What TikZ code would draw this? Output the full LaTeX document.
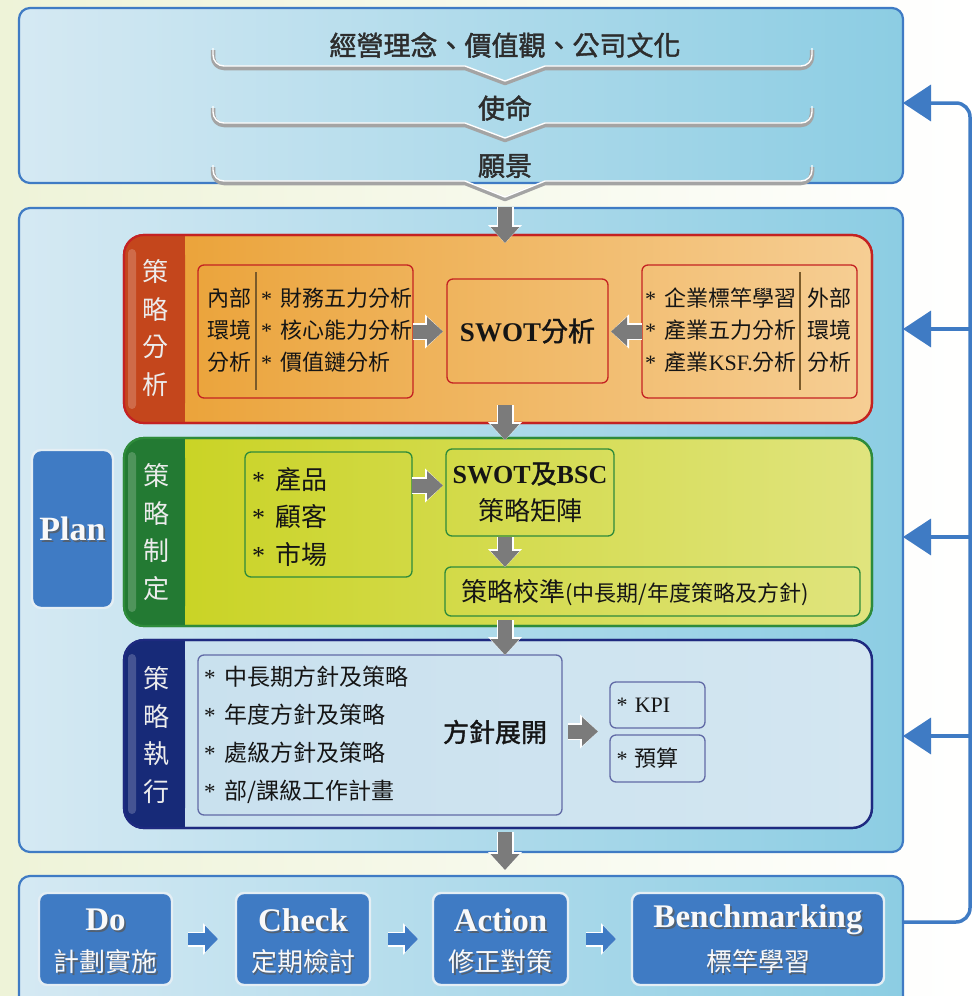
\documentclass[tikz,border=0pt]{standalone}
\usepackage{fontspec}
\setmainfont{Liberation Serif}
\newfontfamily\cjk{Noto Sans CJK TC}
\newfontfamily\cjkb{Noto Sans CJK TC}[FakeBold=1.5]
\usetikzlibrary{arrows.meta,calc}

\definecolor{bgL}{HTML}{EEF3D8}
\definecolor{bluebd}{HTML}{3F7BC4}
\definecolor{boxL}{HTML}{D5E9F3}
\definecolor{boxR}{HTML}{8CCDE3}
\definecolor{edgeW}{HTML}{E4EEF4}
\definecolor{orTab}{HTML}{C4461C}
\definecolor{orL}{HTML}{EAA033}
\definecolor{orR}{HTML}{F6CE94}
\definecolor{orBd}{HTML}{C42222}
\definecolor{grTab}{HTML}{237A33}
\definecolor{grL}{HTML}{C8D21E}
\definecolor{grR}{HTML}{E0E47E}
\definecolor{grBd}{HTML}{2E8B3A}
\definecolor{nvTab}{HTML}{172A78}
\definecolor{nvL}{HTML}{C8E0EE}
\definecolor{nvR}{HTML}{D3E6F1}
\definecolor{nvBd}{HTML}{1E2A80}
\definecolor{arrG}{HTML}{7B7B7B}
\definecolor{inkc}{HTML}{151515}
\definecolor{titc}{HTML}{2D2D2D}
\definecolor{tabtxt}{HTML}{ECECEC}
\definecolor{brkc}{HTML}{A4A4A4}
\definecolor{sepc}{HTML}{7A5A2A}

\newcommand\stx{{\rmfamily *}\hspace{0.4em}}
\newcommand\lb[1]{{\rmfamily\bfseries #1}}

\newcommand\mkbrk[3]{%
  \draw[brkG] (213,#1) [rounded corners=11pt] -- (213,#2) -- (300,#2) [sharp corners] -- (465,#2) -- (505,#3) -- (545,#2) -- (720,#2) [rounded corners=11pt] -- (812,#2) -- (812,#1);
  \draw[brkW] (213,#1) [rounded corners=11pt] -- (213,#2) -- (300,#2) [sharp corners] -- (465,#2) -- (505,#3) -- (545,#2) -- (720,#2) [rounded corners=11pt] -- (812,#2) -- (812,#1);}

\newcommand\mkband[6]{%
  \node[band,draw=#3,left color=#4,right color=#5] (#1) at (124,#2) {};
  \fill[#6,rounded corners=20pt] (#1.north west) rectangle ++(61,188);
  \fill[#6] ($(#1.north west)+(30,0)$) rectangle ++(31,188);
  \fill[white,opacity=0.2,rounded corners=4pt] ($(#1.north west)+(4,14)$) rectangle ++(8,160);
  \draw[#3,line width=2.2pt,rounded corners=20pt] (#1.north west) rectangle (#1.south east);}

\newcommand\shtxt[4]{%
  \node[font=#3,text=black!65,opacity=0.75] (#1s) at ($#2+(1.8,1.8)$) {#4};
  \node[font=#3,text=white!95!gray] (#1) at ($#2$) {#4};}

\begin{document}
\begin{tikzpicture}[x=1pt,y=-1pt,
  every node/.style={inner sep=0pt,outer sep=0pt},
  bigbox/.style={draw=bluebd,line width=2.2pt,rounded corners=11pt,left color=boxL,right color=boxR,anchor=north west,minimum width=884pt},
  band/.style={rounded corners=20pt,anchor=north west,minimum width=748pt,minimum height=188pt,line width=2.2pt},
  ibox/.style={draw=#1,line width=1.3pt,rounded corners=6pt,anchor=north west},
  bbox/.style={fill=bluebd,draw=edgeW,line width=2.4pt,rounded corners=8pt,anchor=north west,minimum height=92pt},
  title/.style={font=\cjkb\fontsize{27}{30}\selectfont,text=titc},
  vtxt/.style={font=\cjk\fontsize{26}{37.5}\selectfont,text=tabtxt,align=center},
  brkG/.style={draw=brkc,line width=4.5pt,line join=round},
  brkW/.style={draw=white,line width=1.4pt,line join=round,yshift=2pt},
  garr/.style={draw=arrG,line width=14pt,-{Triangle[width=28pt,length=16pt]},
    preaction={draw=white,line width=17pt,-{Triangle[width=33pt,length=18pt]}}},
  barr/.style={draw=bluebd,line width=12pt,-{Triangle[width=26pt,length=13pt]},
    preaction={draw=white,line width=15pt,-{Triangle[width=31pt,length=15pt]}}},
  fb/.style={draw=bluebd,line width=3.5pt,-{Triangle[width=36pt,length=28pt]}},
  sepl/.style={draw=#1,line width=1.3pt}
]
\useasboundingbox (0,0) rectangle (972,996);
\shade[left color=bgL,right color=white] (0,0) rectangle (972,996);

% ---------- top box ----------
\node[bigbox,minimum height=175pt] (topbox) at (19,8) {};
\mkbrk{50}{68}{83}
\mkbrk{108}{125}{140}
\mkbrk{167}{183}{199}
\node[title] (t1) at (505,45) {經營理念、價值觀、公司文化};
\node[title] (t2) at (505,108) {使命};
\node[title] (t3) at (505,166) {願景};

% ---------- main plan box ----------
\node[bigbox,minimum height=644pt] (main) at (19,208) {};
\node[fill=bluebd,draw=edgeW,line width=2.4pt,rounded corners=9pt,anchor=north west,minimum width=81pt,minimum height=158pt] (plan) at (32,450) {};
\shtxt{plantxt}{(plan.center)}{\rmfamily\bfseries\fontsize{34}{38}\selectfont}{Plan}

% band 1
\mkband{band1}{235}{orBd}{orL}{orR}{orTab}
\node[vtxt] (v1) at ($(band1.north west)+(31,93)$) {策\\略\\分\\析};
\node[ibox=orBd,minimum width=215pt,minimum height=133pt] (ib1) at (198,265) {};
\node[font=\cjk\fontsize{22}{32}\selectfont,text=inkc,align=center] (ib1a) at (229,330) {內部\\環境\\分析};
\draw[sepl=sepc] ($(ib1.north west)+(58,7)$) -- ($(ib1.south west)+(58,-8)$);
\node[font=\cjk\fontsize{22}{32}\selectfont,text=inkc,align=left,anchor=west] (ib1b) at (261,330) {\stx 財務五力分析\\\stx 核心能力分析\\\stx 價值鏈分析};
\node[ibox=orBd,minimum width=161pt,minimum height=104pt,font=\cjkb\fontsize{27}{30}\selectfont,text=inkc] (swot) at (447,279) {\lb{SWOT}分析};
\node[ibox=orBd,minimum width=215pt,minimum height=133pt] (ib3) at (642,265) {};
\node[font=\cjk\fontsize{22}{32}\selectfont,text=inkc,align=left,anchor=west] (ib3a) at (645,330) {\stx 企業標竿學習\\\stx 產業五力分析\\\stx 產業{\rmfamily KSF.}分析};
\draw[sepl=sepc] ($(ib3.north west)+(158,7)$) -- ($(ib3.south west)+(158,-8)$);
\node[font=\cjk\fontsize{22}{32}\selectfont,text=inkc,align=center] (ib3b) at (829,330) {外部\\環境\\分析};

% band 2
\mkband{band2}{438}{grBd}{grL}{grR}{grTab}
\node[vtxt] (v2) at ($(band2.north west)+(32,94)$) {策\\略\\制\\定};
\node[ibox=grBd,minimum width=167pt,minimum height=125pt] (ib4) at (245,452) {};
\node[font=\cjk\fontsize{26}{37.5}\selectfont,text=inkc,align=left,anchor=west] (ib4a) at (252,517) {\stx 產品\\\stx 顧客\\\stx 市場};
\node[ibox=grBd,minimum width=168pt,minimum height=87pt,font=\cjk\fontsize{26}{37}\selectfont,text=inkc,align=center] (swotbsc) at (446,449) {\lb{SWOT}{\cjkb 及}\lb{BSC}\\策略矩陣};
\node[ibox=grBd,minimum width=415pt,minimum height=49pt] (calib) at (445,567) {};
\node[anchor=base west,font=\cjk\fontsize{26}{30}\selectfont,text=inkc] (calibt) at ($(calib.west)+(16,10)$) {策略校準{\fontsize{22}{26}\selectfont(中長期/年度策略及方針)}};

% band 3
\mkband{band3}{640}{nvBd}{nvL}{nvR}{nvTab}
\node[vtxt] (v3) at ($(band3.north west)+(32,95)$) {策\\略\\執\\行};
\node[ibox=nvBd!70,minimum width=364pt,minimum height=160pt] (ib5) at (198,655) {};
\node[font=\cjk\fontsize{23}{38}\selectfont,text=inkc,align=left,anchor=west] (ib5a) at (204,735) {\stx 中長期方針及策略\\\stx 年度方針及策略\\\stx 處級方針及策略\\\stx 部/課級工作計畫};
\node[font=\cjkb\fontsize{26}{30}\selectfont,text=inkc] (ib5b) at (495,732) {方針展開};
\node[ibox=nvBd!70,minimum width=95pt,minimum height=46pt,text width=82pt,align=left,font=\rmfamily\fontsize{22}{26}\selectfont,text=inkc] (kpi) at (610,682) {* KPI};
\node[ibox=nvBd!70,minimum width=95pt,minimum height=47pt,text width=82pt,align=left,font=\rmfamily\fontsize{22}{26}\selectfont,text=inkc] (bud) at (610,735) {*\hspace{0.3em}{\cjk 預算}};
\coordinate (kb) at ($(kpi.south west)!0.5!(bud.north west)$);

% ---------- bottom box ----------
\node[bigbox,minimum height=140pt] (bot) at (19,876) {};
\node[bbox,minimum width=133pt] (do) at (39,893) {};
\node[bbox,minimum width=134pt] (check) at (236,893) {};
\node[bbox,minimum width=135pt] (act) at (433,893) {};
\node[bbox,minimum width=252pt] (bench) at (632,893) {};
\shtxt{dot}{(do.center)+(0,-19)}{\rmfamily\bfseries\fontsize{33}{36}\selectfont}{Do}
\shtxt{dos}{(do.center)+(0,23)}{\cjk\fontsize{26}{30}\selectfont}{計劃實施}
\shtxt{ckt}{(check.center)+(0,-19)}{\rmfamily\bfseries\fontsize{33}{36}\selectfont}{Check}
\shtxt{cks}{(check.center)+(0,23)}{\cjk\fontsize{26}{30}\selectfont}{定期檢討}
\shtxt{act1}{(act.center)+(0,-19)}{\rmfamily\bfseries\fontsize{33}{36}\selectfont}{Action}
\shtxt{act2}{(act.center)+(0,23)}{\cjk\fontsize{26}{30}\selectfont}{修正對策}
\shtxt{bnt}{(bench.center)+(0,-19)}{\rmfamily\bfseries\fontsize{33}{36}\selectfont}{Benchmarking}
\shtxt{bns}{(bench.center)+(0,23)}{\cjk\fontsize{26}{30}\selectfont}{標竿學習}

% ---------- gray block arrows ----------
\coordinate (col) at (505,0);
\draw[garr] ($(topbox.south -| col)+(0,24)$) -- ($(band1.north -| col)+(0,8)$);
\draw[garr] ($(band1.south -| col)+(0,-18)$) -- ($(band2.north -| col)+(0,2)$);
\draw[garr] ($(band2.south -| col)+(0,-6)$) -- (ib5.north -| col);
\draw[garr] ($(band3.south -| col)+(0,4)$) -- ($(bot.north -| col)+(0,-6)$);
\draw[garr] ($(swotbsc.south -| col)+(0,1)$) -- (calib.north -| col);
\draw[garr] (ib1.east) -- ($(swot.west |- ib1.east)+(-4,0)$);
\draw[garr] (ib3.west) -- ($(swot.east |- ib3.west)+(3,0)$);
\draw[garr] ($(ib4.east |- swotbsc.west)+(0,-7)$) -- ($(swotbsc.west)+(-3,-7)$);
\draw[garr] ($(ib5.east |- kb)+(6,0)$) -- ($(kb)+(-12,0)$);

% ---------- blue arrows in bottom row ----------
\draw[barr] ($(do.east)+(16,0)$) -- ($(check.west)+(-18,0)$);
\draw[barr] ($(check.east)+(18,0)$) -- ($(act.west)+(-15,0)$);
\draw[barr] ($(act.east)+(18,0)$) -- ($(bench.west)+(-16,0)$);

% ---------- feedback ----------
\coordinate (fbR) at (970,0);
\coordinate (fbT) at (970,103);
\coordinate (fbB) at (970,922);
\draw[fb,rounded corners=14pt] (bot.east |- fbB) -- (fbB) -- (fbT) -- (topbox.east |- fbT);
\draw[fb] (fbR |- band1.east) -- (main.east |- band1.east);
\draw[fb] ($(fbR |- band2.east)+(0,5)$) -- ($(main.east |- band2.east)+(0,5)$);
\draw[fb] ($(fbR |- band3.east)+(0,2)$) -- ($(main.east |- band3.east)+(0,2)$);
\end{tikzpicture}
\end{document}
